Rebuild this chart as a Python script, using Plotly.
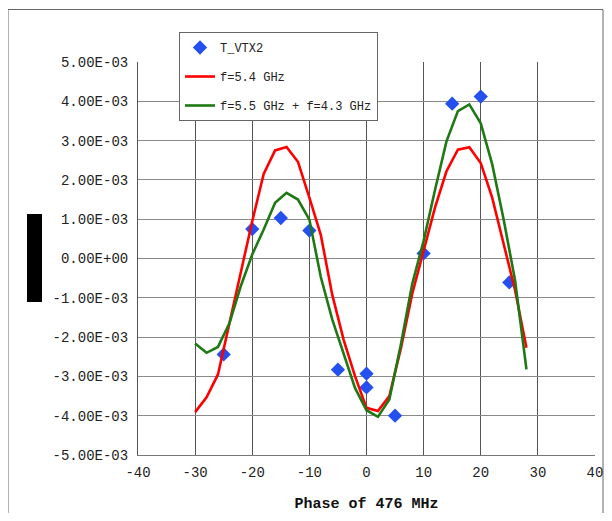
import numpy as np
import plotly.graph_objects as go

# ---- data (values in units of 1e-3) ----
meas_phase = [-25, -20, -15, -10, -5, 0, 0, 5, 10, 15, 20, 25]
meas_vtx2 = [-2.44, 0.75, 1.03, 0.71, -2.83, -2.93, -3.28, -4.00, 0.13, 3.94, 4.12, -0.61]

model_phase = [-30, -28, -26, -24, -22, -20, -18, -16, -14, -12, -10, -8, -6, -4, -2,
               0, 2, 4, 6, 8, 10, 12, 14, 16, 18, 20, 22, 24, 26, 28]
f54 = [-3.91, -3.53, -2.95, -1.65, -0.35, 0.95, 2.15, 2.75, 2.84, 2.46, 1.55, 0.60, -0.92, -2.07, -3.00,
       -3.80, -3.88, -3.50, -2.30, -0.90, 0.20, 1.30, 2.22, 2.77, 2.83, 2.43, 1.55, 0.35, -0.80, -2.27]
f55_43 = [-2.16, -2.40, -2.25, -1.65, -0.70, 0.10, 0.74, 1.42, 1.67, 1.50, 0.99, -0.47, -1.55, -2.45, -3.30,
          -3.86, -4.03, -3.59, -2.20, -0.65, 0.45, 1.75, 2.98, 3.75, 3.92, 3.44, 2.40, 1.00, -0.55, -2.82]

x_ticks = [-40, -30, -20, -10, 0, 10, 20, 30, 40]
y_tickvals = [5, 4, 3, 2, 1, 0, -1, -2, -3, -4, -5]
y_ticktext = ["5.00E-03", "4.00E-03", "3.00E-03", "2.00E-03", "1.00E-03", "0.00E+00",
              "-1.00E-03", "-2.00E-03", "-3.00E-03", "-4.00E-03", "-5.00E-03"]
x_title = "Phase of 476 MHz"

SCALE = 1e-3
FONT = "Liberation Mono, Courier New, monospace"

fig = go.Figure()
fig.add_trace(go.Scatter(
    x=meas_phase, y=np.array(meas_vtx2) * SCALE, mode="markers", name="T_VTX2",
    legendgroup="a",
    marker=dict(symbol="diamond", size=11, color="#2350ee", line=dict(width=0))))
fig.add_trace(go.Scatter(
    x=model_phase, y=np.array(f54) * SCALE, mode="lines", name="f=5.4 GHz",
    legendgroup="b", line=dict(color="#ff0000", width=2.6)))
fig.add_trace(go.Scatter(
    x=model_phase, y=np.array(f55_43) * SCALE, mode="lines", name="f=5.5 GHz + f=4.3 GHz",
    legendgroup="c", line=dict(color="#1e7814", width=2.6)))

# page body adds an 8px margin on every side; size the figure so the page
# does not overflow the 612x521 window (no scrollbars)
OFF = 8
W, H = 612 - 2 * OFF, 521 - 2 * OFF
L, T = 138 - OFF, 62 - OFF
R = W - (595 - OFF)
B = H - (455 - OFF)
pw = W - L - R
ph = H - T - B

def px_x(p):  # screenshot pixel -> paper
    return (p - OFF - L) / pw

def px_y(p):
    return (H - B - (p - OFF)) / ph

shapes = [
    dict(type="rect", xref="paper", yref="paper",
         x0=px_x(8), x1=px_x(603), y0=px_y(540), y1=px_y(9.5),
         line=dict(color="#666666", width=1), fillcolor="rgba(0,0,0,0)", layer="below"),
    dict(type="rect", xref="paper", yref="paper",
         x0=px_x(27), x1=px_x(42), y0=px_y(302), y1=px_y(214),
         line=dict(width=0), fillcolor="black"),
]

fig.update_layout(
    width=W, height=H,
    margin=dict(l=L, r=R, t=T, b=B, autoexpand=False),
    paper_bgcolor="white", plot_bgcolor="white",
    font=dict(family=FONT, color="#222222", size=14),
    showlegend=True,
    legend=dict(
        x=px_x(179), y=px_y(32), xanchor="left", yanchor="top",
        bgcolor="white", bordercolor="#666666", borderwidth=1,
        font=dict(family=FONT, size=12, color="#222222"),
        tracegroupgap=10, itemwidth=30,
    ),
    shapes=shapes,
    xaxis=dict(
        range=[-40, 40], tickvals=x_ticks, ticktext=[str(v) for v in x_ticks],
        showgrid=True, gridcolor="#555555", gridwidth=1,
        zeroline=False, showline=True, linecolor="#777777", linewidth=1, mirror=False,
        ticks="", tickfont=dict(family=FONT, size=14, color="#222222"),
        ticklabelstandoff=4, ticklabeloverflow="allow",
        title=dict(text="<b>" + x_title + "</b>",
                   font=dict(family=FONT, size=15, color="#111111"), standoff=17),
    ),
    yaxis=dict(
        range=[-5 * SCALE, 5 * SCALE],
        tickvals=[v * SCALE for v in y_tickvals], ticktext=y_ticktext,
        showgrid=True, gridcolor="#8a8a8a", gridwidth=1,
        zeroline=False, showline=True, linecolor="#555555", linewidth=1,
        ticks="", tickfont=dict(family=FONT, size=14, color="#222222"),
        ticklabelstandoff=6,
    ),
)

fig.write_html("out.html")
